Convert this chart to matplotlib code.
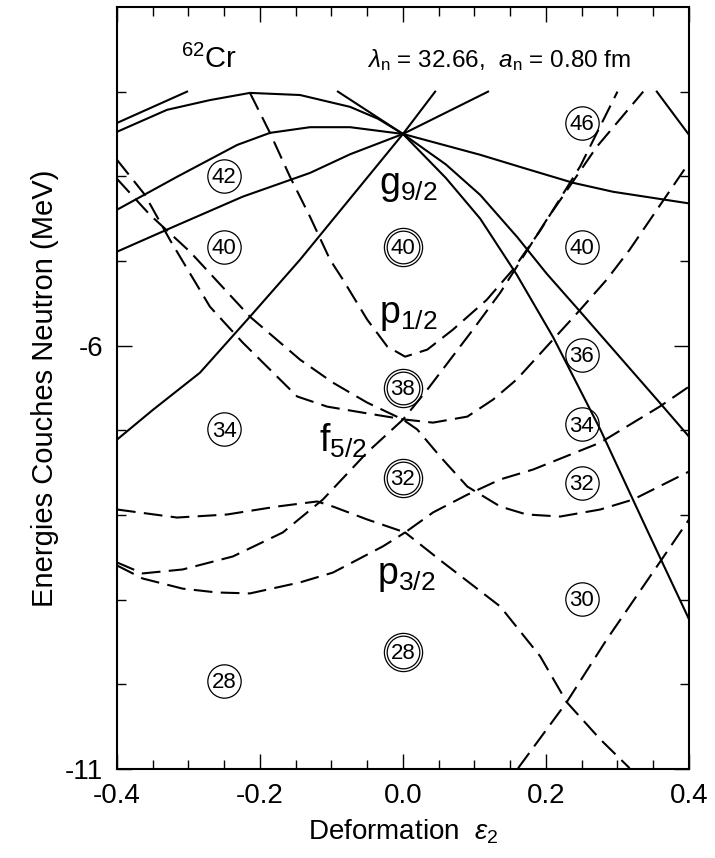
import matplotlib
matplotlib.use("Agg")
import matplotlib.pyplot as plt

plt.rcParams['font.family'] = ['Liberation Sans', 'DejaVu Sans']
plt.rcParams['mathtext.fontset'] = 'custom'
plt.rcParams['mathtext.rm'] = 'Liberation Sans'
plt.rcParams['mathtext.it'] = 'Liberation Sans:italic'
plt.rcParams['mathtext.bf'] = 'Liberation Sans:bold'
plt.rcParams['axes.unicode_minus'] = False

# positive parity levels (solid), (deformation, energy)
g_top = [(-0.400, -3.37), (-0.302, -3.00)]
g_arc = [(-0.400, -3.475), (-0.330, -3.215), (-0.270, -3.10), (-0.214, -3.015),
         (-0.144, -3.04), (-0.074, -3.18), (-0.035, -3.32), (0.0, -3.50)]
g_steep_left = [(-0.091, -3.00), (0.0, -3.50)]
g_mid_left = [(-0.400, -4.395), (-0.316, -4.006), (-0.232, -3.63), (-0.186, -3.487),
              (-0.130, -3.42), (-0.074, -3.42), (0.0, -3.50)]
g_low_left = [(-0.400, -4.89), (-0.322, -4.60), (-0.224, -4.24), (-0.130, -3.96),
              (-0.074, -3.74), (0.0, -3.50)]
g_down_left = [(0.0, -3.50), (-0.144, -4.985), (-0.214, -5.658), (-0.284, -6.32),
               (-0.350, -6.76), (-0.400, -7.11)]
g_up1 = [(0.0, -3.50), (0.045, -3.00)]
g_up2 = [(0.0, -3.50), (0.119, -3.00)]
g_flat = [(0.0, -3.50), (0.108, -3.746), (0.168, -3.90), (0.238, -4.077),
          (0.294, -4.183), (0.400, -4.32)]
g_down_b = [(0.0, -3.50), (0.060, -3.86), (0.108, -4.22), (0.160, -4.72),
            (0.201, -5.15), (0.248, -5.60), (0.359, -6.673), (0.400, -7.074)]
g_down_a = [(0.0, -3.50), (0.060, -4.02), (0.108, -4.50), (0.159, -5.16),
            (0.210, -5.90), (0.276, -6.99), (0.341, -8.17), (0.400, -9.23)]
d_top_right = [(0.355, -3.00), (0.400, -3.51)]

# negative parity levels (dashed)
p12 = [(-0.214, -3.015), (-0.186, -3.487), (-0.158, -4.006), (-0.130, -4.478),
       (-0.102, -4.985), (-0.084, -5.22), (-0.050, -5.693), (-0.022, -6.01),
       (0.003, -6.13), (0.034, -6.047), (0.070, -5.81), (0.117, -5.46),
       (0.154, -5.10), (0.192, -4.64), (0.248, -3.88), (0.300, -3.00)]
f52_a = [(-0.400, -3.805), (-0.361, -4.218), (-0.326, -4.75), (-0.270, -5.54),
         (-0.224, -5.965), (-0.148, -6.60), (-0.106, -6.72), (-0.050, -6.80),
         (0.003, -6.873), (0.042, -6.909), (0.090, -6.838), (0.126, -6.637),
         (0.159, -6.40), (0.248, -5.575), (0.285, -5.22), (0.317, -4.867),
         (0.400, -3.84)]
f52_b = [(-0.400, -4.03), (-0.354, -4.454), (-0.298, -4.89), (-0.214, -5.658),
         (-0.144, -6.165), (-0.098, -6.437), (-0.050, -6.673), (0.0, -6.873),
         (0.020, -6.99), (0.052, -7.31), (0.090, -7.664), (0.136, -7.90),
         (0.173, -7.994), (0.220, -8.018), (0.276, -7.935), (0.322, -7.817),
         (0.400, -7.487)]
f52_c = [(-0.400, -8.56), (-0.364, -8.69), (-0.308, -8.643), (-0.238, -8.49),
         (-0.168, -8.206), (-0.112, -7.817), (-0.050, -7.26), (0.0, -6.873),
         (0.034, -6.52), (0.066, -6.165), (0.098, -5.81), (0.136, -5.375),
         (0.201, -4.513), (0.271, -3.652), (0.336, -3.00)]
p32_a = [(-0.400, -7.935), (-0.316, -8.03), (-0.246, -7.994), (-0.176, -7.90),
         (-0.120, -7.84), (-0.098, -7.90), (-0.050, -8.053), (0.003, -8.206),
         (0.042, -7.97), (0.090, -7.76), (0.136, -7.58), (0.182, -7.463),
         (0.276, -7.145), (0.359, -6.72), (0.400, -6.484)]
p32_b = [(-0.400, -8.596), (-0.364, -8.75), (-0.308, -8.87), (-0.260, -8.915),
         (-0.214, -8.926), (-0.144, -8.796), (-0.098, -8.68), (-0.028, -8.37),
         (0.003, -8.206), (0.056, -8.56), (0.136, -9.08), (0.192, -9.67),
         (0.229, -10.21), (0.276, -10.65), (0.317, -10.99)]
f72 = [(0.161, -10.99), (0.229, -10.21), (0.285, -9.47), (0.359, -8.56),
       (0.400, -8.053)]

solid_levels = [g_top, g_arc, g_steep_left, g_mid_left, g_low_left, g_down_left,
                g_up1, g_up2, g_flat, g_down_b, g_down_a, d_top_right]
dashed_levels = [p12, f52_a, f52_b, f52_c, p32_a, p32_b, f72]

# shell gap numbers
single_x = [-0.25, -0.25, -0.25, -0.25, 0.25, 0.25, 0.25, 0.25, 0.25, 0.25]
single_y = [-4.0, -4.83, -6.99, -9.96, -3.37, -4.83, -6.11, -6.93, -7.62, -8.99]
single_n = ['42', '40', '34', '28', '46', '40', '36', '34', '32', '30']
double_x = [0.0, 0.0, 0.0, 0.0]
double_y = [-4.83, -6.50, -7.56, -9.62]
double_n = ['40', '38', '32', '28']

orb_names = [r'$\rm g_{9/2}$', r'$\rm p_{1/2}$', r'$\rm f_{5/2}$', r'$\rm p_{3/2}$']
orb_x = [-0.034, -0.034, -0.118, -0.036]
orb_y = [-4.21, -5.73, -7.25, -8.82]

fig = plt.figure(figsize=(7.15, 8.58), dpi=100)
ax = fig.add_axes([0.1636, 0.1037, 0.8000, 0.8882])

for lev in solid_levels:
    ax.plot([p[0] for p in lev], [p[1] for p in lev], color='black', lw=1.5)
for lev in dashed_levels:
    ax.plot([p[0] for p in lev], [p[1] for p in lev], color='black', lw=1.5,
            dashes=(9, 4))

ax.plot(single_x, single_y, 'o', ms=24, mfc='none', mec='black', mew=0.9)
for x, y, n in zip(single_x, single_y, single_n):
    ax.text(x, y - 0.02, n, ha='center', va='center', fontsize=16)
ax.plot(double_x, double_y, 'o', ms=27.5, mfc='none', mec='black', mew=0.9)
ax.plot(double_x, double_y, 'o', ms=23.5, mfc='none', mec='black', mew=0.9)
for x, y, n in zip(double_x, double_y, double_n):
    ax.text(x, y - 0.02, n, ha='center', va='center', fontsize=16)

for name, x, y in zip(orb_names, orb_x, orb_y):
    ax.text(x, y, name, ha='left', va='baseline', fontsize=27)

ax.text(-0.31, -2.72, r'$^{62}$Cr', ha='left', va='baseline', fontsize=21)
ax.text(-0.050, -2.71, r'$\lambda_{\rm n}$ = 32.66,  $a_{\rm n}$ = 0.80 fm',
        ha='left', va='baseline', fontsize=17.5)

ax.set_xlim(-0.4, 0.4)
ax.set_ylim(-11, -2)
ax.set_xticks([-0.4, -0.2, 0.0, 0.2, 0.4])
ax.set_xticklabels(['-0.4', '-0.2', '0.0', '0.2', '0.4'])
ax.set_xticks([i * 0.05 - 0.4 for i in range(17)], minor=True)
ax.set_yticks([-6, -11])
ax.set_yticklabels(['-6', '-11'])
ax.set_yticks([-3, -4, -5, -7, -8, -9, -10], minor=True)
ax.tick_params(which='both', direction='in', top=True, right=True, width=1)
ax.tick_params(which='major', length=11, labelsize=20, pad=10)
ax.tick_params(which='minor', length=6.5)
for s in ax.spines.values():
    s.set_linewidth(1.5)

ax.set_xlabel(r'Deformation  $\varepsilon_2$', fontsize=20, labelpad=6)
ax.set_ylabel('Energies Couches Neutron (MeV)', fontsize=21, labelpad=4)

fig.savefig('out.png', dpi=100)
